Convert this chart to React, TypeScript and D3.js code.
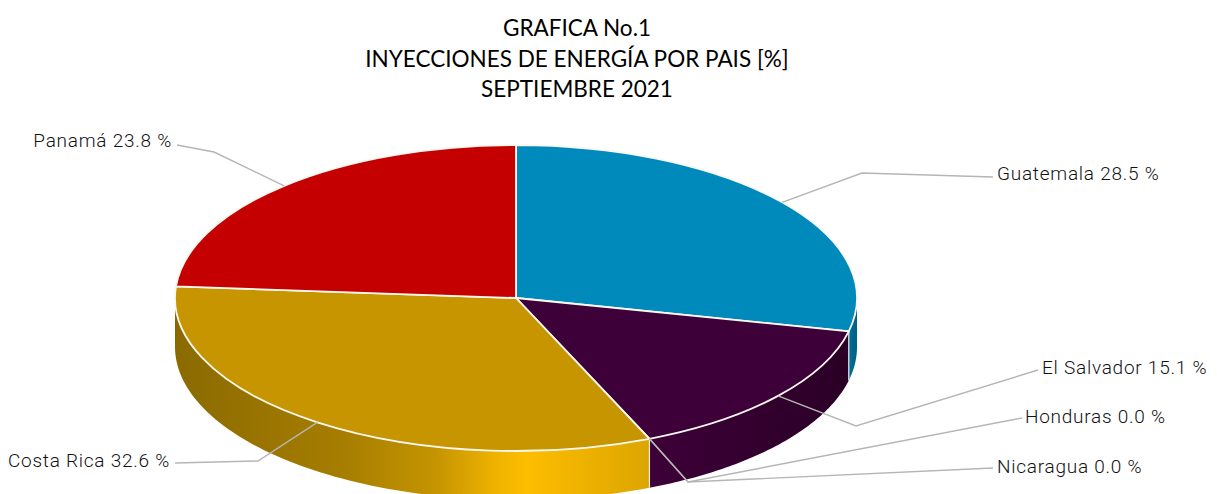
import React from "react";
import * as d3 from "d3";

const titleLines = ["GRAFICA No.1", "INYECCIONES DE ENERGÍA POR PAIS [%]", "SEPTIEMBRE 2021"];
const countries = ["Guatemala", "El Salvador", "Honduras", "Nicaragua", "Costa Rica", "Panamá"];
const shares = [28.5, 15.1, 0, 0, 32.6, 23.8];
const topColors = ["#0089bb", "#3d0038", "#3d0038", "#3d0038", "#c69500", "#c40000"];

// label placement: text anchor point and the elbow of each leader line
const labelX = [997, 1042, 1025, 997, 170, 172];
const labelY = [180, 374, 423, 473, 467, 147];
const labelAnchor = ["start", "start", "start", "start", "end", "end"];
const elbowX = [862, 856, 688, 688, 258, 214];
const elbowY = [173, 426, 482, 482, 461, 152];
const leaderEndX = [993, 1038, 1022, 993, 175, 177];
const leaderEndY = [177, 370, 418, 468, 463, 145];

const width = 1217;
const height = 494;
const cx = 516;
const cy = 298;
const rx = 341;
const ry = 153;
const depth = 49;

const pie = d3.pie<number>().sort(null).value((d) => d);
const slices = pie(shares);
const arc = d3.arc<d3.PieArcDatum<number>>().innerRadius(0).outerRadius(rx);

// angle is measured clockwise from the top, same as d3.pie
const edge = (a: number, dy = 0): [number, number] => [
  cx + rx * Math.sin(a),
  cy - ry * Math.cos(a) + dy,
];

const line = d3.line();

function wallPath(a0: number, a1: number) {
  const start = Math.max(a0, Math.PI / 2);
  const end = Math.min(a1, (3 * Math.PI) / 2);
  if (end <= start) return null;
  const n = 80;
  const angles = d3.range(n + 1).map((i) => start + ((end - start) * i) / n);
  const upper = angles.map((a) => edge(a));
  const lower = angles.slice().reverse().map((a) => edge(a, depth));
  return line([...upper, ...lower]) + "Z";
}

const wallFills = ["url(#wallBlue)", "url(#wallPurple)", "none", "none", "url(#wallGold)", "none"];

export default function App() {
  return (
    <svg
      width={width}
      height={height}
      style={{ position: "absolute", left: 0, top: 0, background: "#fff" }}
    >
      <defs>
        <linearGradient id="wallGold" gradientUnits="userSpaceOnUse" x1={175} x2={650} y1={0} y2={0}>
          <stop offset="0" stopColor="#8a6a00" />
          <stop offset="0.35" stopColor="#a67d00" />
          <stop offset="0.55" stopColor="#c59400" />
          <stop offset="0.68" stopColor="#f0b400" />
          <stop offset="0.74" stopColor="#fdbd00" />
          <stop offset="1" stopColor="#dca500" />
        </linearGradient>
        <linearGradient id="wallPurple" gradientUnits="userSpaceOnUse" x1={650} x2={850} y1={0} y2={0}>
          <stop offset="0" stopColor="#3d0038" />
          <stop offset="1" stopColor="#2a0026" />
        </linearGradient>
        <linearGradient id="wallBlue" gradientUnits="userSpaceOnUse" x1={849} x2={857} y1={0} y2={0}>
          <stop offset="0" stopColor="#006f97" />
          <stop offset="1" stopColor="#005f82" />
        </linearGradient>
      </defs>

      <g fontFamily="Lato" fontSize={22.5} fill="#000" textAnchor="middle">
        {titleLines.map((t, i) => (
          <text key={t} x={577} y={36 + i * 30.5}>
            {t}
          </text>
        ))}
      </g>

      {/* side walls */}
      {slices.map((s, i) => {
        const d = wallPath(s.startAngle, s.endAngle);
        return d && wallFills[i] !== "none" ? <path key={i} d={d} fill={wallFills[i]} /> : null;
      })}
      {/* seams on the wall */}
      {[slices[0].endAngle, slices[1].endAngle].map((a) => (
        <path
          key={a}
          d={line([edge(a), edge(a, depth)]) as string}
          stroke="#eee"
          strokeWidth={1.2}
        />
      ))}

      {/* top of the pie */}
      <g transform={`translate(${cx},${cy}) scale(1,${ry / rx})`}>
        {slices.map((s, i) =>
          s.value > 0 ? (
            <path
              key={countries[i]}
              d={arc(s) as string}
              fill={topColors[i]}
              stroke="#f9f7f0"
              strokeWidth={1.8}
              vectorEffect="non-scaling-stroke"
            />
          ) : null
        )}
      </g>

      {/* leader lines */}
      {slices.map((s, i) => {
        const anchor = edge((s.startAngle + s.endAngle) / 2);
        return (
          <path
            key={countries[i]}
            d={
              line([
                anchor,
                [elbowX[i], elbowY[i]],
                [leaderEndX[i], leaderEndY[i]],
              ]) as string
            }
            fill="none"
            stroke="#b5b5b5"
            strokeWidth={1.4}
          />
        );
      })}

      <g fontFamily="Roboto" fontWeight={300} fontSize={19} fill="#111">
        {countries.map((c, i) => (
          <text
            key={c}
            x={labelX[i]}
            y={labelY[i]}
            textAnchor={labelAnchor[i]}
            style={{ letterSpacing: "0.75px" }}
          >
            {`${c} ${shares[i].toFixed(1)} %`}
          </text>
        ))}
      </g>
    </svg>
  );
}
